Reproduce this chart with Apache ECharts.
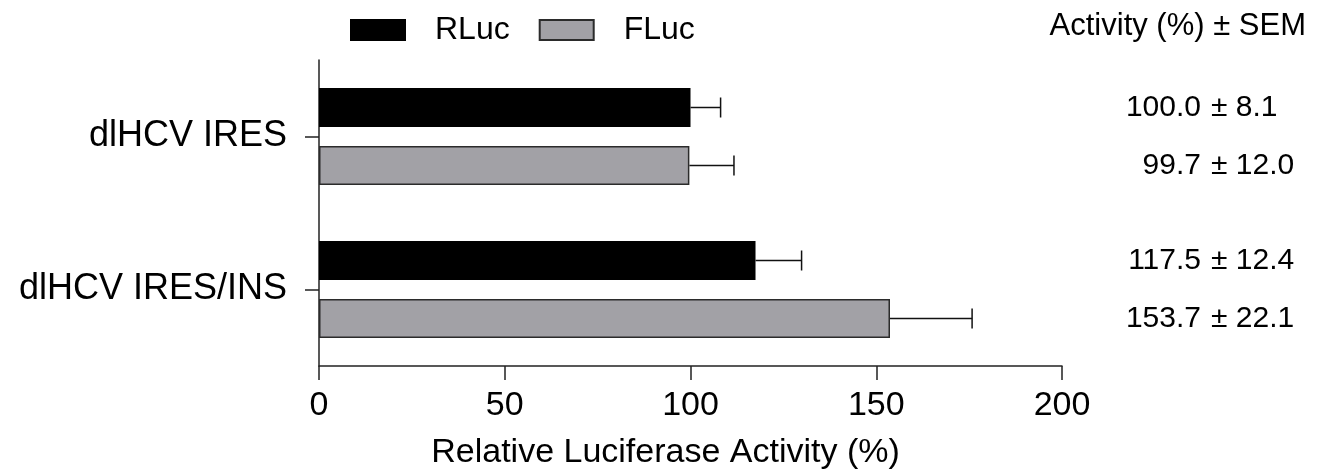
<!DOCTYPE html>
<html>
<head>
<meta charset="utf-8">
<script src="https://cdn.jsdelivr.net/npm/echarts@6/dist/echarts.min.js"></script>
<style>
html,body{margin:0;padding:0;background:#fff;}
#chart{width:1320px;height:475px;}
</style>
</head>
<body>
<div id="chart"></div>
<script>
// ---- data ----
var categories = ['dlHCV IRES', 'dlHCV IRES/INS'];
var seriesNames = ['RLuc', 'FLuc'];
var rlucMean = [100.0, 117.5];
var rlucSem = [8.1, 12.4];
var flucMean = [99.7, 153.7];
var flucSem = [12.0, 22.1];
var xTicks = { min: 0, max: 200, interval: 50 };
var xAxisTitle = 'Relative Luciferase Activity (%)';
var tableHeader = 'Activity (%) \u00b1 SEM';

var FONT = '"Liberation Sans", Arial, sans-serif';
var BAR_W = 39, BAR_GAP = 19;
var colors = ['#000000', '#a2a1a6'];
var borders = ['#000000', '#2b2b2b'];

var means = [rlucMean, flucMean];
var sems = [rlucSem, flucSem];

function offsetFor(s) {
  var step = BAR_W + BAR_GAP;
  return (s - (means.length - 1) / 2) * step;
}

var errData = [];
for (var s = 0; s < means.length; s++) {
  for (var i = 0; i < categories.length; i++) {
    errData.push([i, means[s][i], sems[s][i], s]);
  }
}

var chart = echarts.init(document.getElementById('chart'), null, { renderer: 'canvas' });

var barSeries = means.map(function (m, s) {
  return {
    name: seriesNames[s],
    type: 'bar',
    data: m,
    barWidth: BAR_W,
    barGap: (BAR_GAP / BAR_W * 100).toFixed(1) + '%',
    itemStyle: { color: colors[s], borderColor: borders[s], borderWidth: 1.5 },
    emphasis: { disabled: true },
    animation: false
  };
});

var option = {
  backgroundColor: '#ffffff',
  animation: false,
  textStyle: { fontFamily: FONT, color: '#000' },
  legend: {
    data: seriesNames,
    left: 345,
    top: 9,
    icon: 'rect',
    itemWidth: 54,
    itemHeight: 20,
    itemGap: 29,
    textStyle: { fontFamily: FONT, fontSize: 32, color: '#000', padding: [0, 0, 0, 25] },
    selectedMode: false
  },
  grid: { left: 319, right: 258, top: 60, bottom: 104, containLabel: false },
  xAxis: {
    type: 'value',
    min: xTicks.min, max: xTicks.max, interval: xTicks.interval,
    name: xAxisTitle,
    nameLocation: 'middle',
    nameGap: 70,
    nameTextStyle: { fontFamily: FONT, fontSize: 34, color: '#000', padding: [0, 50, 0, 0] },
    axisLine: { show: true, lineStyle: { color: '#222', width: 1.5 } },
    axisTick: { show: true, length: 14, lineStyle: { color: '#222', width: 1.5 } },
    splitLine: { show: false },
    axisLabel: { fontFamily: FONT, fontSize: 34, color: '#000', margin: 23 }
  },
  yAxis: {
    type: 'category',
    data: categories,
    inverse: true,
    axisLine: { show: true, lineStyle: { color: '#222', width: 1.5 } },
    axisTick: { show: true, length: 14, alignWithLabel: true, lineStyle: { color: '#222', width: 1.5 } },
    axisLabel: { fontFamily: FONT, fontSize: 36, color: '#000', margin: 32 },
    splitLine: { show: false }
  },
  graphic: [{
    type: 'text',
    right: 14,
    top: 11,
    style: { text: tableHeader, font: '31px ' + FONT, fill: '#000' }
  }],
  series: barSeries.concat([
    {
      name: 'errors',
      type: 'custom',
      data: errData,
      encode: { x: 1, y: 0 },
      z: 5,
      silent: true,
      renderItem: function (params, api) {
        var cat = api.value(0), m = api.value(1), e = api.value(2), s = api.value(3);
        var p0 = api.coord([m, cat]);
        var p1 = api.coord([m + e, cat]);
        var y = p0[1] + offsetFor(s);
        var cap = 10;
        var st = { stroke: '#111', lineWidth: 1.5, fill: null };
        return {
          type: 'group',
          children: [
            { type: 'line', shape: { x1: p0[0], y1: y, x2: p1[0], y2: y }, style: st },
            { type: 'line', shape: { x1: p1[0], y1: y - cap, x2: p1[0], y2: y + cap }, style: st }
          ]
        };
      }
    },
    {
      name: 'values',
      type: 'custom',
      data: errData,
      encode: { x: 1, y: 0 },
      z: 6,
      silent: true,
      clip: false,
      renderItem: function (params, api) {
        var cat = api.value(0), m = api.value(1), e = api.value(2), s = api.value(3);
        var p0 = api.coord([m, cat]);
        var y = p0[1] + offsetFor(s);
        var xs = api.getWidth() - 119;
        return {
          type: 'group',
          children: [
            { type: 'text', x: xs, y: y, style: { text: m.toFixed(1), font: '30px ' + FONT, fill: '#000', align: 'right', verticalAlign: 'middle' } },
            { type: 'text', x: xs + 10, y: y, style: { text: '\u00b1 ' + e.toFixed(1), font: '30px ' + FONT, fill: '#000', align: 'left', verticalAlign: 'middle' } }
          ]
        };
      }
    }
  ])
};
chart.setOption(option);
</script>
</body>
</html>
